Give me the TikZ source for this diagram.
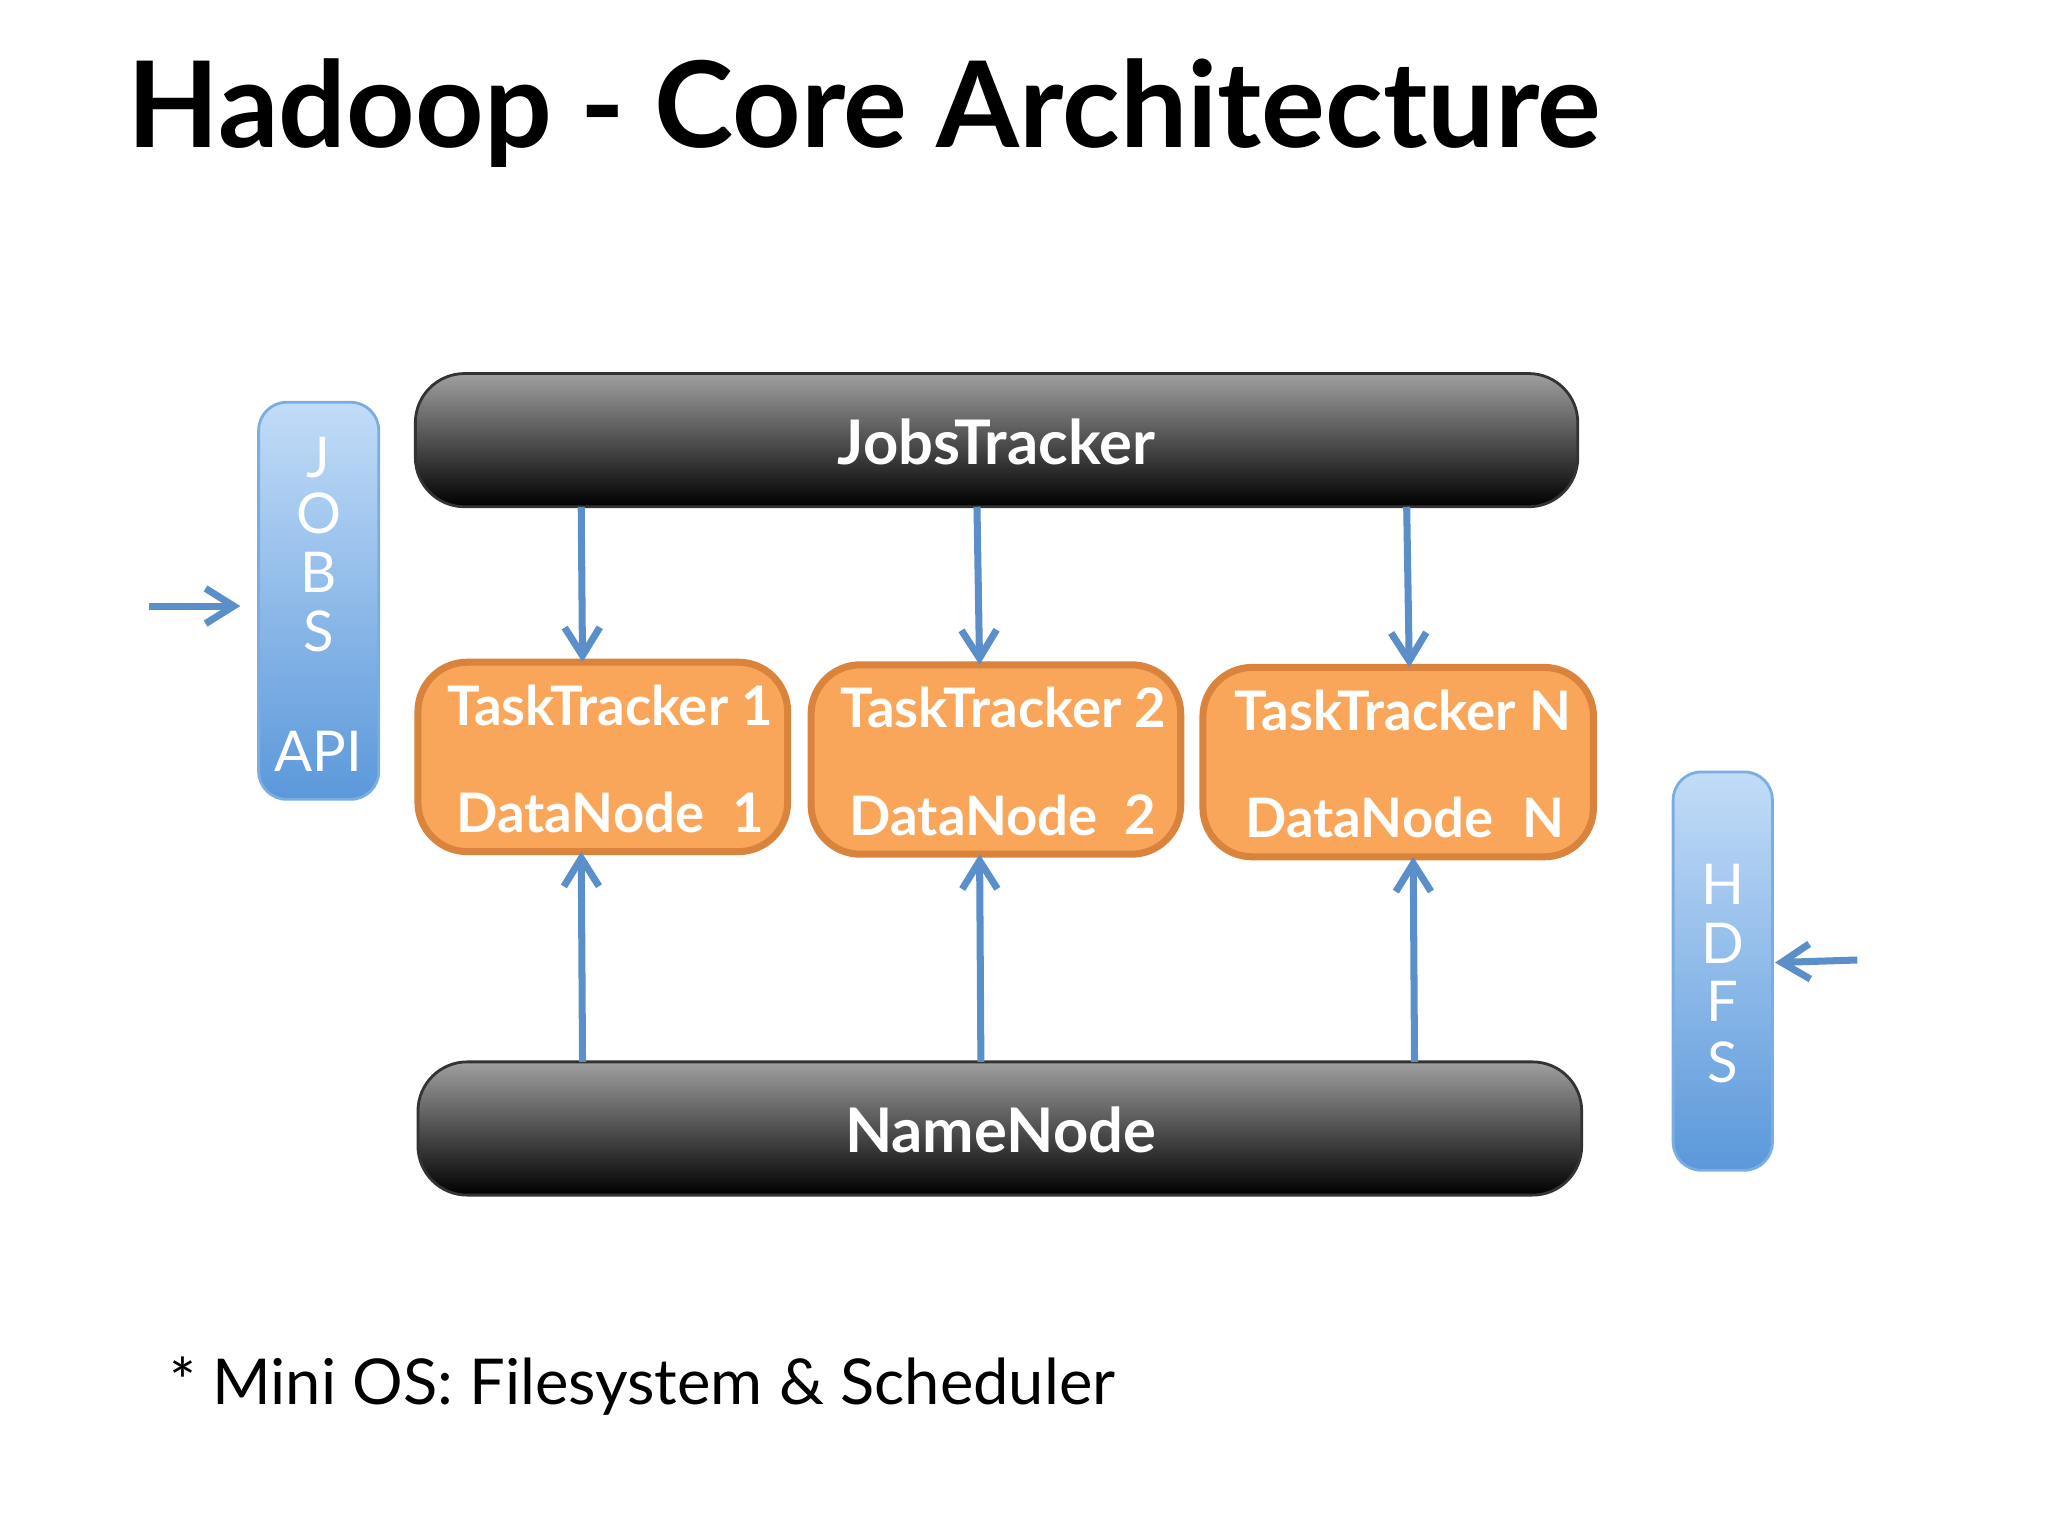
\documentclass[tikz,border=0pt]{standalone}
\usepackage{fontspec}
\setmainfont{Lato}
\usetikzlibrary{arrows.meta}
\definecolor{arr}{HTML}{5B8FC9}
\definecolor{orf}{HTML}{F9A65A}
\definecolor{ord}{HTML}{D9833C}
\definecolor{blt}{HTML}{C2DCF8}
\definecolor{bdk}{HTML}{5B98DA}
\begin{document}
\begin{tikzpicture}[x=0.01306cm,y=-0.01306cm,
  bar/.style={rounded corners=14pt,draw=black!80,line width=0.8pt,top color=gray!75,bottom color=black},
  task/.style={rounded corners=14pt,draw=ord,line width=2pt,fill=orf},
  blue/.style={rounded corners=8pt,draw=bdk!80,line width=0.8pt,top color=blt,bottom color=bdk},
  wt/.style={text=white,font=\fontsize{15.5}{18}\selectfont\bfseries},
  lt/.style={text=white,font=\fontsize{16}{18}\selectfont},
  ar/.style={arr,line width=2pt,-{Straight Barb[length=8pt,width=10pt]}}]
\useasboundingbox (0,0) rectangle (1568,1176);
\node[anchor=base west,font=\fontsize{34}{40}\selectfont\bfseries] (title) at (88,113) {Hadoop - Core Architecture};
\path[bar] (318,286) rectangle (1208,388);
\node[wt,font=\fontsize{17.5}{20}\selectfont\bfseries] (jt) at (763,338) {JobsTracker};
\path[bar] (320,813) rectangle (1211,915);
\node[wt,font=\fontsize{17.5}{20}\selectfont\bfseries] (nn) at (766,865) {NameNode};
\path[blue] (198,308) rectangle (290,612);
\node[lt] (j1) at (244,350) {J};
\node[lt] (j2) at (244,393) {O};
\node[lt] (j3) at (244,438) {B};
\node[lt] (j4) at (244,483) {S};
\node[lt] (j5) at (244,575) {API};
\path[blue] (1281,591) rectangle (1357,896);
\node[lt] (h1) at (1319,677) {H};
\node[lt] (h2) at (1319,722) {D};
\node[lt] (h3) at (1319,767) {F};
\node[lt] (h4) at (1319,813) {S};
\path[task] (320,507) rectangle (603,652);
\path[task] (621,509) rectangle (904,654);
\path[task] (921,511) rectangle (1220,656);
\node[wt,anchor=west] (t1) at (333,540) {TaskTracker 1};
\node[wt,anchor=west] (d1) at (340,622) {DataNode};
\node[wt] (n1) at (573,622) {1};
\node[wt,anchor=west] (t2) at (634,542) {TaskTracker 2};
\node[wt,anchor=west] (d2) at (641,624) {DataNode};
\node[wt] (n2) at (873,624) {2};
\node[wt,anchor=west] (t3) at (936,544) {TaskTracker N};
\node[wt,anchor=west] (d3) at (944,626) {DataNode};
\node[wt] (n3) at (1182,626) {N};
\coordinate (a1) at (445,388); \coordinate (b1) at (446,507);
\coordinate (a2) at (748,388); \coordinate (b2) at (750,509);
\coordinate (a3) at (1077,388); \coordinate (b3) at (1079,511);
\draw[ar] (a1) -- (b1); \draw[ar] (a2) -- (b2); \draw[ar] (a3) -- (b3);
\coordinate (c1) at (446,813); \coordinate (e1) at (445,652);
\coordinate (c2) at (751,813); \coordinate (e2) at (750,654);
\coordinate (c3) at (1083,813); \coordinate (e3) at (1082,656);
\draw[ar] (c1) -- (e1); \draw[ar] (c2) -- (e2); \draw[ar] (c3) -- (e3);
\coordinate (s1) at (114,464); \coordinate (s2) at (184,464);
\draw[ar] (s1) -- (s2);
\coordinate (r1) at (1422,735); \coordinate (r2) at (1359,737);
\draw[ar] (r1) -- (r2);
\node[anchor=base west,font=\fontsize{18}{22}\selectfont] (foot) at (120,1075) {* Mini OS: Filesystem \& Scheduler};
\end{tikzpicture}
\end{document}
